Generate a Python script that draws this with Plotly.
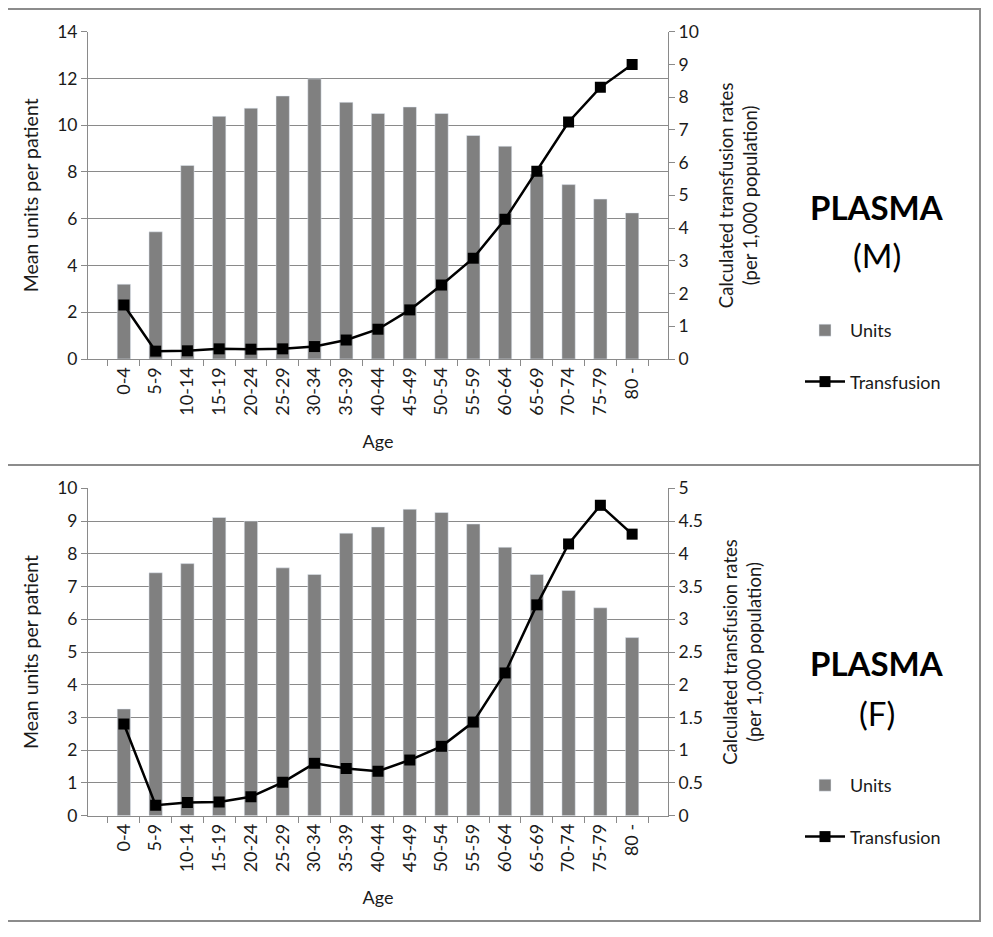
import plotly.graph_objects as go

W, H = 993, 937
OFF = 8  # the page body adds an 8px margin; compensate in the pixel geometry

ages = ["0-4", "5-9", "10-14", "15-19", "20-24", "25-29", "30-34", "35-39", "40-44",
        "45-49", "50-54", "55-59", "60-64", "65-69", "70-74", "75-79", "80 -"]

units_m = [3.2, 5.44, 8.28, 10.38, 10.73, 11.25, 11.98, 10.98, 10.5, 10.78, 10.5,
           9.56, 9.1, 7.9, 7.46, 6.84, 6.25]
transf_m = [1.65, 0.24, 0.25, 0.31, 0.3, 0.31, 0.38, 0.58, 0.91, 1.5, 2.26, 3.08,
            4.27, 5.74, 7.24, 8.3, 9.0]

units_f = [3.26, 7.42, 7.7, 9.11, 9.0, 7.57, 7.37, 8.63, 8.82, 9.36, 9.26, 8.91,
           8.2, 7.37, 6.88, 6.35, 5.44]
transf_f = [1.40, 0.16, 0.2, 0.21, 0.29, 0.51, 0.8, 0.72, 0.68, 0.85, 1.06, 1.43,
            2.18, 3.22, 4.15, 4.74, 4.3]

panels = [
    dict(units=units_m, transf=transf_m, label="(M)", yl=(0, 14, 2), yr=(0, 10, 1)),
    dict(units=units_f, transf=transf_f, label="(F)", yl=(0, 10, 1), yr=(0, 5, 0.5)),
]

FONT = "Lato"
GRID = "#8a8a8a"
BAR = "#808080"
TXT = "#1a1a1a"


def px(x):
    return (x - OFF) / W


def py(y):
    return 1 - (y - OFF) / H


# pixel geometry of the plot areas (in screenshot coordinates)
plot_x = (88, 668)
plot_y = [(31.7, 359), (488.3, 815.7)]
panel_boxes = [(7, 9, 980, 465), (7, 465, 980, 921)]

fig = go.Figure()
layout = dict(
    width=W, height=H,
    margin=dict(l=0, r=0, t=0, b=0, autoexpand=False),
    paper_bgcolor="white", plot_bgcolor="white",
    font=dict(family=FONT, size=15, color=TXT),
    bargap=0.58,
    showlegend=True,
    shapes=[], annotations=[],
)

for i, p in enumerate(panels):
    xa = "x" if i == 0 else "x2"
    ya_l = "y" if i == 0 else "y3"
    ya_r = "y2" if i == 0 else "y4"
    leg = "legend" if i == 0 else "legend2"

    fig.add_trace(go.Bar(x=ages, y=p["units"], name="Units", marker_color=BAR,
                         xaxis=xa, yaxis=ya_l, legend=leg, legendgroup=f"u{i}"))
    fig.add_trace(go.Scatter(x=ages, y=p["transf"], name="Transfusion", mode="lines+markers",
                             line=dict(color="black", width=2.5),
                             marker=dict(symbol="square", size=11, color="black"),
                             xaxis=xa, yaxis=ya_r, legend=leg, legendgroup=f"t{i}"))

    y0, y1 = plot_y[i]
    dom_y = [py(y1), py(y0)]
    xkey = "xaxis" if i == 0 else "xaxis2"
    ylkey = "yaxis" if i == 0 else "yaxis3"
    yrkey = "yaxis2" if i == 0 else "yaxis4"

    layout[xkey] = dict(
        domain=[px(plot_x[0]), px(plot_x[1])], anchor=ya_l, automargin=False,
        type="category", tickangle=-90, showline=True, linecolor=GRID, linewidth=1,
        ticks="outside", tickson="boundaries", ticklen=6, tickcolor=GRID,
        showgrid=False, tickfont=dict(size=18, color=TXT),
        title=dict(text="Age", font=dict(size=18, color=TXT), standoff=20),
    )
    lo, hi, dt = p["yl"]
    layout[ylkey] = dict(
        domain=dom_y, anchor=xa, range=[lo, hi], dtick=dt, automargin=False,
        showline=True, linecolor=GRID, linewidth=1, ticks="outside", ticklen=6,
        tickcolor=GRID, showgrid=True, gridcolor=GRID, gridwidth=1, zeroline=False,
        tickfont=dict(size=17.5, color=TXT),
        title=dict(text="Mean units per patient", font=dict(size=19.5, color=TXT), standoff=13),
    )
    lo, hi, dt = p["yr"]
    layout[yrkey] = dict(
        overlaying=ya_l, side="right", anchor=xa, range=[lo, hi], dtick=dt, automargin=False,
        showline=True, linecolor=GRID, linewidth=1, ticks="outside", ticklen=6,
        tickcolor=GRID, showgrid=False, zeroline=False,
        tickfont=dict(size=17.5, color=TXT),
        title=dict(text="Calculated transfusion rates<br>(per 1,000 population)",
                   font=dict(size=18.5, color=TXT), standoff=22),
    )

    legend_top = 312 if i == 0 else 767
    layout[leg] = dict(
        x=px(800), y=py(legend_top), xanchor="left", yanchor="top",
        bgcolor="rgba(0,0,0,0)", font=dict(size=18, color=TXT),
        traceorder="grouped", tracegroupgap=25, itemwidth=40,
    )

    bx0, by0, bx1, by1 = panel_boxes[i]
    layout["shapes"].append(dict(type="rect", xref="paper", yref="paper",
                                 x0=px(bx0), x1=px(bx1), y0=py(by1), y1=py(by0),
                                 line=dict(color="#8c8c8c", width=2)))
    cy = 207 if i == 0 else 663
    layout["annotations"].append(dict(
        xref="paper", yref="paper", x=px(877), y=py(cy), showarrow=False,
        text="<b>PLASMA</b>", font=dict(size=33, color="black", family=FONT),
        xanchor="center", yanchor="middle"))
    cy2 = 255 if i == 0 else 713
    layout["annotations"].append(dict(
        xref="paper", yref="paper", x=px(877), y=py(cy2), showarrow=False,
        text=p["label"], font=dict(size=33, color="black", family=FONT),
        xanchor="center", yanchor="middle"))

fig.update_layout(**layout)
fig.write_html("out.html")
